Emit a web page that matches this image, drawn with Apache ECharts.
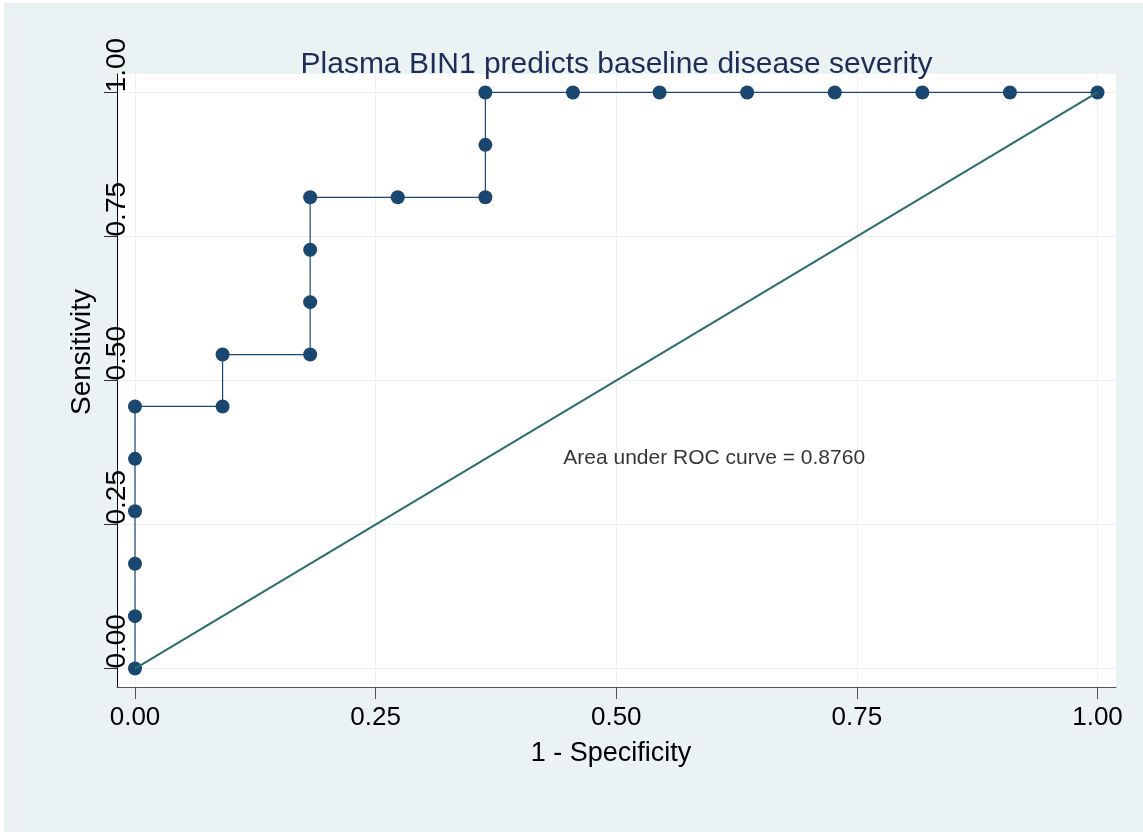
<!DOCTYPE html>
<html>
<head>
<meta charset="utf-8">
<script src="https://cdn.jsdelivr.net/npm/echarts@6/dist/echarts.min.js"></script>
<style>
  html, body { margin: 0; padding: 0; background: #fff; }
  #chart { position: absolute; left: 4px; top: 3px; width: 1139px; height: 829px; }
</style>
</head>
<body>
<div id="chart"></div>
<script>
// ROC points (1 - specificity, sensitivity)
const fpr = [0, 0, 0, 0, 0, 0, 0.091, 0.091, 0.182, 0.182, 0.182, 0.182, 0.273, 0.364, 0.364, 0.364, 0.455, 0.545, 0.636, 0.727, 0.818, 0.909, 1];
const tpr = [0, 0.091, 0.182, 0.273, 0.364, 0.455, 0.455, 0.545, 0.545, 0.636, 0.727, 0.818, 0.818, 0.818, 0.909, 1, 1, 1, 1, 1, 1, 1, 1];
const refLine = [[0, 0], [1, 1]];
const tickValues = [0, 0.25, 0.5, 0.75, 1];
const titleText = "Plasma BIN1 predicts baseline disease severity";
const aucText = "Area under ROC curve = 0.8760";
const aucPos = [0.445, 0.365];

const font = "Liberation Sans, Arial, sans-serif";

let options = {
  backgroundColor: "#eaf2f3",
  animation: false,
  grid: {
    left: 113,
    top: 71,
    width: 999,
    height: 613,
    show: true,
    backgroundColor: "#ffffff",
    borderWidth: 0,
    outerBoundsMode: "none",
  },
  xAxis: {
    type: "value",
    min: -0.0187,
    max: 1.0192,
    axisLine: { show: true, onZero: false, lineStyle: { color: "#555", width: 1 } },
    axisTick: { show: true, length: 12, customValues: tickValues, lineStyle: { color: "#555" } },
    axisLabel: {
      customValues: tickValues,
      formatter: (v) => v.toFixed(2),
      fontSize: 26,
      fontFamily: font,
      color: "#000",
      margin: 18,
    },
    splitLine: { show: true, lineStyle: { color: "#eaf2f3", width: 1 } },
  },
  yAxis: {
    type: "value",
    min: -0.032,
    max: 1.032,
    axisLine: { show: true, onZero: false, lineStyle: { color: "#000", width: 1 } },
    axisTick: { show: true, length: 13, customValues: tickValues, lineStyle: { color: "#333" } },
    axisLabel: {
      customValues: tickValues,
      formatter: (v) => v.toFixed(2),
      rotate: 90,
      align: "left",
      verticalAlign: "middle",
      margin: 0,
      fontSize: 28,
      fontFamily: font,
      color: "#000",
    },
    splitLine: { show: true, lineStyle: { color: "#eaf2f3", width: 1 } },
  },
  graphic: [
    {
      type: "text",
      x: 612.5,
      y: 61.5,
      z: 100,
      style: { text: titleText, fontSize: 30, fontFamily: font, fill: "#1e2d58", textAlign: "center", textVerticalAlign: "middle" },
    },
    {
      type: "text",
      x: 607,
      y: 751,
      style: { text: "1 - Specificity", fontSize: 27, fontFamily: font, fill: "#000", textAlign: "center", textVerticalAlign: "middle" },
    },
    {
      type: "text",
      x: 78,
      y: 349,
      rotation: Math.PI / 2,
      style: { text: "Sensitivity", fontSize: 28, fontFamily: font, fill: "#000", textAlign: "center", textVerticalAlign: "middle" },
    },
  ],
  series: [
    {
      name: "ROC",
      type: "line",
      data: fpr.map((x, i) => [x, tpr[i]]),
      symbol: "circle",
      symbolSize: 14,
      showAllSymbol: true,
      itemStyle: { color: "#1a476f" },
      lineStyle: { color: "#1a476f", width: 1.2 },
      z: 2,
    },
    {
      name: "Reference",
      type: "line",
      data: refLine,
      symbol: "none",
      lineStyle: { color: "#2b6d69", width: 2 },
      z: 3,
    },
    {
      name: "AUC",
      type: "scatter",
      data: [aucPos],
      symbolSize: 0,
      label: {
        show: true,
        position: "right",
        distance: 0,
        formatter: aucText,
        fontSize: 21,
        fontFamily: font,
        color: "#000",
      },
      z: 4,
    },
  ],
};

var chart = echarts.init(document.getElementById("chart"));
chart.setOption(options);
window.addEventListener("resize", function () {
  chart.resize();
});
</script>
</body>
</html>
